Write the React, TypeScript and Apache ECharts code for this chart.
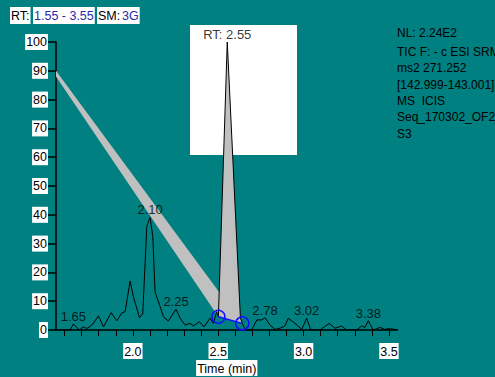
import React, { useEffect, useRef } from 'react';
import * as echarts from 'echarts';

// ---- data ----
const traceTime = [
  1.55, 1.633, 1.652, 1.686, 1.711, 1.731, 1.76, 1.799, 1.828, 1.873, 1.906, 1.936, 1.955,
  1.984, 2.003, 2.039, 2.058, 2.082, 2.101, 2.117, 2.13, 2.16, 2.179, 2.208, 2.253, 2.277,
  2.306, 2.335, 2.355, 2.39, 2.417, 2.452, 2.472, 2.491, 2.501, 2.553, 2.63, 2.641, 2.657,
  2.676, 2.696, 2.726, 2.755, 2.774, 2.803, 2.833, 2.862, 2.891, 2.91, 2.95, 2.989, 3.018,
  3.042, 3.096, 3.15, 3.184, 3.223, 3.252, 3.311, 3.34, 3.359, 3.379, 3.408, 3.447, 3.476,
  3.496, 3.535, 3.55,
];
const traceIntensity = [
  0, 0, 2.1, 0, 1.1, 0.5, 1.7, 4.9, 1.1, 6.0, 3.2, 6.0, 6.4,
  17.0, 11.6, 4.3, 5.6, 36.1, 39.1, 32.4, 13.2, 8.1, 4.6, 3.1, 7.2, 4.1,
  1.7, 2.3, 1.4, 2.9, 1.1, 4.1, 2.3, 6.4, 4.6, 100, 4.2, 2.3, 0.2,
  0, 0, 3.5, 3.5, 4.3, 1.7, 0.2, 0.6, 1.4, 4.1, 2.3, 0.2, 4.1,
  0, 0, 2.3, 0.6, 1.4, 0, 0, 1.4, 0.9, 3.2, 0, 0.9, 0.2,
  0.5, 0.2, 0,
];
const peakStart: [number, number] = [2.501, 4.6];
const peakEnd: [number, number] = [2.641, 2.3];
const bandTop: [number, number] = [1.55, 90];
const bandBottom: [number, number] = [1.55, 88];

const peakLabelTimes = [1.652, 2.101, 2.253, 2.553, 2.774, 3.018, 3.379];
const peakLabelValues = [2.1, 39.1, 7.2, 100, 4.3, 4.1, 3.2];
const peakLabelTexts = ['1.65', '2.10', '2.25', 'RT: 2.55', '2.78', '3.02', '3.38'];

const xTickValues = [
  1.6, 1.7, 1.8, 1.9, 2.0, 2.1, 2.2, 2.3, 2.4, 2.5, 2.6, 2.7, 2.8, 2.9, 3.0, 3.1, 3.2, 3.3, 3.4, 3.5,
];
const xLabelValues = [2.0, 2.5, 3.0, 3.5];
const xRange = [1.55, 3.55];
const yRange = [0, 100];
const yInterval = 10;

const headerLabels = ['RT:', '1.55 - 3.55', 'SM:', '3G'];
const infoLines = [
  'NL: 2.24E2',
  'TIC F: - c ESI SRM',
  'ms2 271.252',
  '[142.999-143.001]',
  'MS  ICIS',
  'Seq_170302_OF2_',
  'S3',
];

const FONT = "'Liberation Sans',Arial,sans-serif";
const TEAL = '#008080';

export default function App() {
  const ref = useRef<HTMLDivElement>(null);

  useEffect(() => {
    if (!ref.current) return;
    const chart = echarts.init(ref.current, undefined, { renderer: 'svg' });

    const trace = traceTime.map((t, i) => [t, traceIntensity[i]]);
    const peakTrace = trace.filter((p) => p[0] >= peakStart[0] && p[0] <= peakEnd[0]);

    const headerX = [10, 33, 97, 121];
    const headerColors = ['#000', '#2a2aa8', '#000', '#2a2aa8'];
    const infoY = [33, 52, 68, 85, 101, 117, 134];

    const graphics: any[] = [
      {
        type: 'rect',
        z: 1,
        shape: { x: 190, y: 25, width: 107, height: 130 },
        style: { fill: '#fff' },
      },
      ...headerLabels.map((txt, i) => ({
        type: 'text',
        z: 10,
        x: headerX[i],
        y: 7,
        style: {
          text: txt,
          fill: headerColors[i],
          font: `12.5px ${FONT}`,
          backgroundColor: '#fff',
          padding: [2, 1, 1, 1],
          lineHeight: 14,
        },
      })),
      ...infoLines.map((txt, i) => ({
        type: 'text',
        z: 10,
        x: 397,
        y: infoY[i],
        style: {
          text: txt,
          fill: '#000',
          font: `12px ${FONT}`,
          verticalAlign: 'middle',
        },
      })),
    ];

    chart.setOption({
      animation: false,
      backgroundColor: TEAL,
      grid: {
        left: 56,
        top: 42,
        width: 341.5,
        height: 288,
        containLabel: false,
        outerBoundsMode: 'none',
      },
      xAxis: {
        type: 'value',
        min: xRange[0],
        max: xRange[1],
        splitLine: { show: false },
        axisLine: { show: true, onZero: false, lineStyle: { color: '#000', width: 1.5 } },
        axisTick: {
          show: true,
          customValues: xTickValues,
          length: 6,
          lineStyle: { color: '#000', width: 1 },
        },
        axisLabel: {
          customValues: xLabelValues,
          formatter: (v: number) => v.toFixed(1),
          color: '#000',
          fontSize: 12.5,
          fontFamily: FONT,
          backgroundColor: '#fff',
          padding: [2, 1, 1, 1],
          margin: 13,
        },
        name: 'Time (min)',
        nameLocation: 'middle',
        nameGap: 30,
        nameMoveOverlap: false,
        nameTextStyle: {
          color: '#000',
          fontSize: 12.5,
          fontFamily: FONT,
          backgroundColor: '#fff',
          padding: [2, 1, 1, 1],
          verticalAlign: 'top',
        },
      },
      yAxis: {
        type: 'value',
        min: yRange[0],
        max: yRange[1],
        interval: yInterval,
        splitLine: { show: false },
        axisLine: { show: true, lineStyle: { color: '#000', width: 1.5 } },
        axisTick: { show: true, length: 8, lineStyle: { color: '#000', width: 1.5 } },
        axisLabel: {
          color: '#000',
          fontSize: 12.5,
          fontFamily: FONT,
          backgroundColor: '#fff',
          padding: [2, 1, 1, 1],
          margin: 8,
        },
      },
      graphic: graphics,
      series: [
        {
          type: 'custom',
          z: 3,
          silent: true,
          data: [[2.5, 50]],
          renderItem: (_params: any, api: any) => {
            const band = [bandTop, peakEnd, peakStart, bandBottom].map((p) => api.coord(p));
            const peak = peakTrace.map((p) => api.coord(p));
            return {
              type: 'group',
              children: [
                { type: 'polygon', shape: { points: band }, style: { fill: '#c0c0c0' } },
                { type: 'polygon', shape: { points: peak }, style: { fill: '#c0c0c0' } },
              ],
            };
          },
        },
        {
          type: 'line',
          z: 4,
          silent: true,
          data: trace,
          symbol: 'none',
          lineStyle: { color: '#000', width: 1 },
        },
        {
          type: 'line',
          z: 5,
          silent: true,
          data: [peakStart, peakEnd],
          symbol: 'circle',
          symbolSize: 13,
          itemStyle: { color: 'rgba(0,0,0,0)', borderColor: '#1010ff', borderWidth: 1.5 },
          lineStyle: { color: '#1010ff', width: 1.5 },
        },
        {
          type: 'scatter',
          z: 6,
          silent: true,
          symbol: 'circle',
          symbolSize: 0,
          data: peakLabelTimes.map((t, i) => ({
            value: [t, peakLabelValues[i]],
            name: peakLabelTexts[i],
          })),
          label: {
            show: true,
            position: 'top',
            distance: 1,
            formatter: (p: any) => p.name,
            color: '#000',
            fontSize: 13,
            fontFamily: FONT,
          },
        },
      ],
    });

    return () => chart.dispose();
  }, []);

  return (
    <div
      ref={ref}
      style={{ position: 'absolute', left: 0, top: 0, width: 495, height: 377, background: TEAL }}
    />
  );
}
